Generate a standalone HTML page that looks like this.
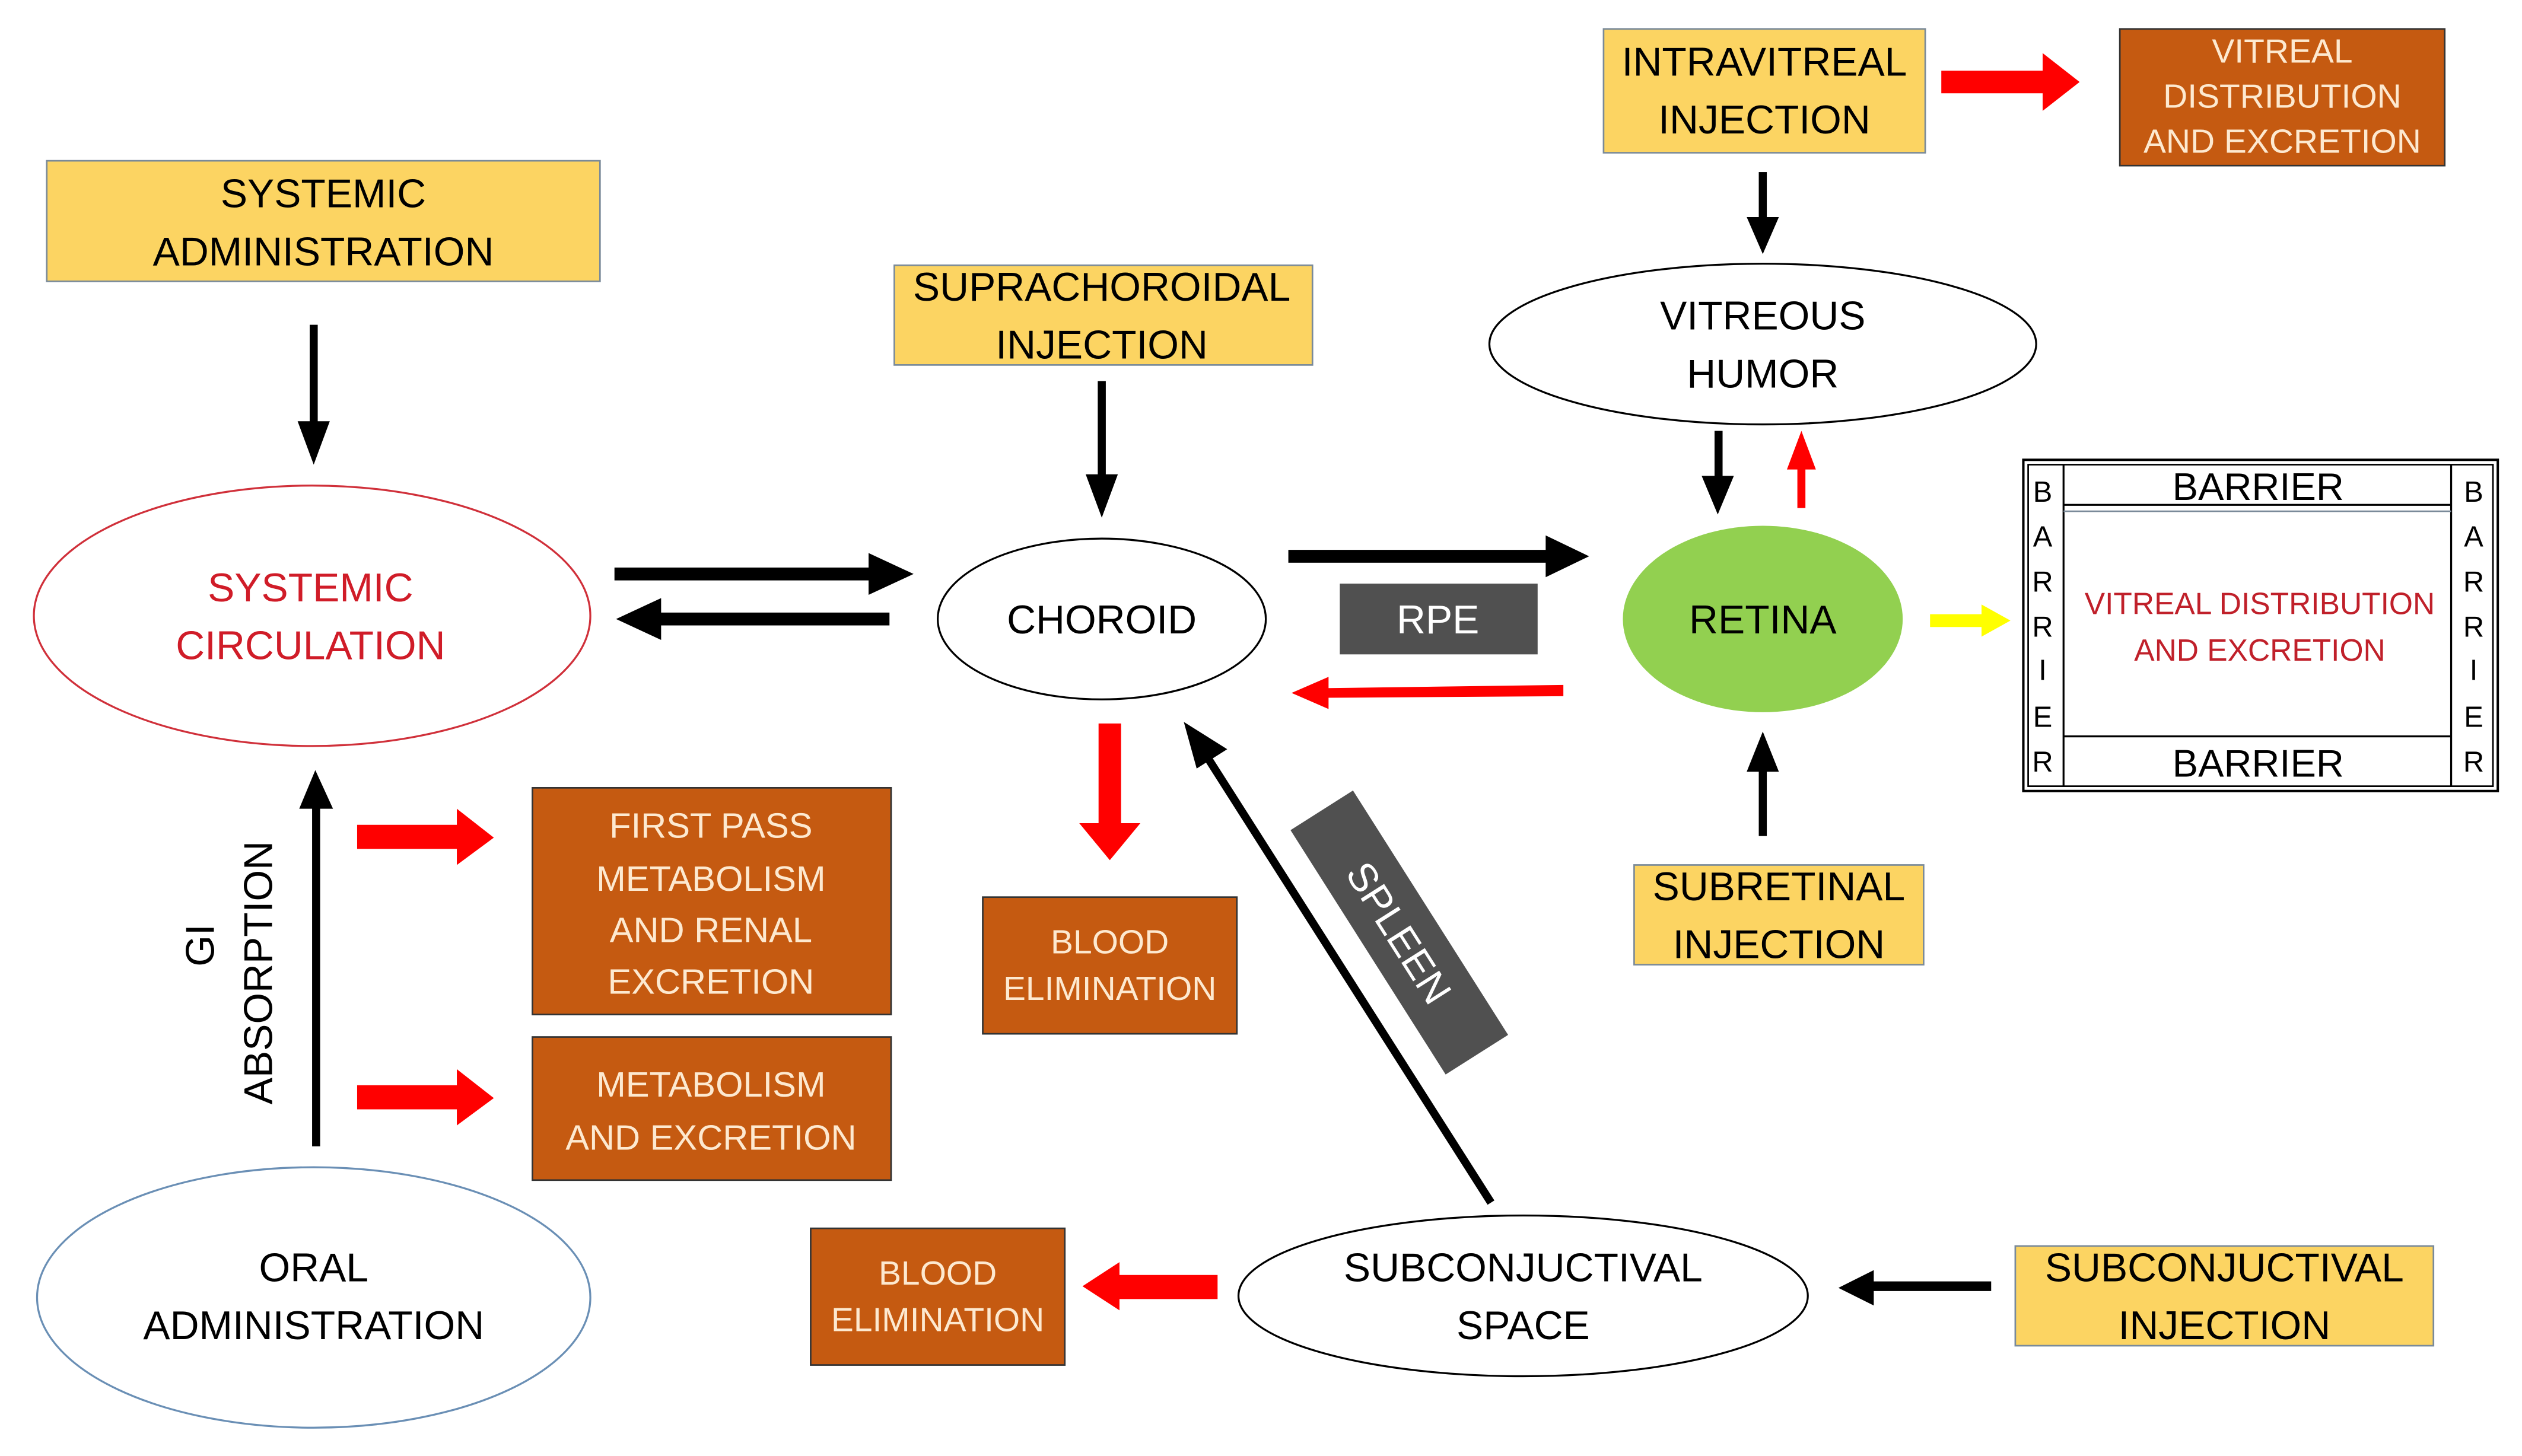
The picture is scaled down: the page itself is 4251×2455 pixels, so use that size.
<!DOCTYPE html>
<html><head><meta charset="utf-8"><style>
html,body{margin:0;padding:0;background:#fff}
svg{display:block}
text{font-family:"Liberation Sans",sans-serif;text-anchor:middle}
</style></head><body>
<svg width="4251" height="2455" viewBox="0 0 1568 905.6" xmlns="http://www.w3.org/2000/svg">
<rect width="1568" height="906" fill="#fff"/>
<g font-size="25">
<rect x="29" y="100" width="344" height="75" fill="#FCD462" stroke="#7a8a99" stroke-width="1"/>
<text x="201" y="129">SYSTEMIC</text><text x="201" y="165">ADMINISTRATION</text>
<rect x="192.5" y="202" width="5" height="62" fill="#000"/><path d="M185,262 L205,262 L195,289 Z" fill="#000"/>
<ellipse cx="194" cy="383" rx="173" ry="81" fill="#fff" stroke="#d0303a" stroke-width="1.2"/>
<text x="193" y="374" fill="#d01c28">SYSTEMIC</text><text x="193" y="410" fill="#d01c28">CIRCULATION</text>
<rect x="382" y="353" width="160" height="8" fill="#000"/><path d="M540,344 L568,357 L540,370 Z" fill="#000"/>
<rect x="410" y="381" width="143" height="8" fill="#000"/><path d="M411,372 L383,385 L411,398 Z" fill="#000"/>
<rect x="556" y="165" width="260" height="62" fill="#FCD462" stroke="#7a8a99" stroke-width="1"/>
<text x="685" y="187">SUPRACHOROIDAL</text><text x="685" y="223">INJECTION</text>
<rect x="682.5" y="237" width="5" height="60" fill="#000"/><path d="M675,295 L695,295 L685,322 Z" fill="#000"/>
<ellipse cx="685" cy="385" rx="102" ry="50" fill="#fff" stroke="#000" stroke-width="1.2"/>
<text x="685" y="394">CHOROID</text>
<rect x="801" y="342" width="162" height="8" fill="#000"/><path d="M961,333 L988,346 L961,359 Z" fill="#000"/>
<rect x="833" y="363" width="123" height="44" fill="#505050"/>
<text x="894" y="394" fill="#fff">RPE</text>
<path d="M972,426 L826,428 L826,421 L803,431 L826,441 L826,434 L972,433 Z" fill="#f00"/>
<ellipse cx="1096" cy="385" rx="87" ry="58" fill="#92D050"/>
<text x="1096" y="394">RETINA</text>
<ellipse cx="1096" cy="214" rx="170" ry="50" fill="#fff" stroke="#000" stroke-width="1.2"/>
<text x="1096" y="205">VITREOUS</text><text x="1096" y="241">HUMOR</text>
<rect x="997" y="18" width="200" height="77" fill="#FCD462" stroke="#7a8a99" stroke-width="1"/>
<text x="1097" y="47">INTRAVITREAL</text><text x="1097" y="83">INJECTION</text>
<path d="M1207,44 L1270,44 L1270,33 L1293,51 L1270,69 L1270,58 L1207,58 Z" fill="#f00"/>
<rect x="1318" y="18" width="202" height="85" fill="#C55A11" stroke="#333" stroke-width="1"/>
<g fill="#fde9d0" font-size="21"><text x="1419" y="39">VITREAL</text><text x="1419" y="67">DISTRIBUTION</text><text x="1419" y="95">AND EXCRETION</text></g>
<rect x="1093.5" y="107" width="5" height="30" fill="#000"/><path d="M1086,135 L1106,135 L1096,158 Z" fill="#000"/>
<rect x="1066" y="268" width="5" height="30" fill="#000"/><path d="M1058,296 L1078,296 L1068,320 Z" fill="#000"/>
<rect x="1117.5" y="290" width="5" height="26" fill="#f00"/><path d="M1111,292 L1129,292 L1120,268 Z" fill="#f00"/>
<path d="M1200,382 L1232,382 L1232,376 L1250,386 L1232,396 L1232,390 L1200,390 Z" fill="#ff0"/>
<rect x="1258" y="286" width="295" height="206" fill="#fff" stroke="#000" stroke-width="1.5"/>
<rect x="1261" y="289" width="289" height="200" fill="none" stroke="#000" stroke-width="1"/>
<line x1="1283" y1="289" x2="1283" y2="489" stroke="#000" stroke-width="1.2"/>
<line x1="1524" y1="289" x2="1524" y2="489" stroke="#000" stroke-width="1.2"/>
<line x1="1283" y1="314" x2="1524" y2="314" stroke="#000" stroke-width="1.2"/>
<line x1="1283" y1="318" x2="1524" y2="318" stroke="#7a8a99" stroke-width="1"/>
<line x1="1283" y1="458" x2="1524" y2="458" stroke="#000" stroke-width="1.2"/>
<g font-size="24"><text x="1404" y="311">BARRIER</text><text x="1404" y="483">BARRIER</text></g>
<g font-size="18"><text x="1270" y="312">B</text><text x="1270" y="340">A</text><text x="1270" y="368">R</text><text x="1270" y="396">R</text><text x="1270" y="423">I</text><text x="1270" y="452">E</text><text x="1270" y="480">R</text>
<text x="1538" y="312">B</text><text x="1538" y="340">A</text><text x="1538" y="368">R</text><text x="1538" y="396">R</text><text x="1538" y="423">I</text><text x="1538" y="452">E</text><text x="1538" y="480">R</text></g>
<g fill="#c0202a" font-size="19"><text x="1405" y="382">VITREAL DISTRIBUTION</text><text x="1405" y="411">AND EXCRETION</text></g>
<rect x="1016" y="538" width="180" height="62" fill="#FCD462" stroke="#7a8a99" stroke-width="1"/>
<text x="1106" y="560">SUBRETINAL</text><text x="1106" y="596">INJECTION</text>
<rect x="1093.5" y="478" width="5" height="42" fill="#000"/><path d="M1086,480 L1106,480 L1096,455 Z" fill="#000"/>
<path d="M683,450 L697,450 L697,512 L709,512 L690,535 L671,512 L683,512 Z" fill="#f00"/>
<rect x="611" y="558" width="158" height="85" fill="#C55A11" stroke="#333" stroke-width="1"/>
<g fill="#fde9d0" font-size="21"><text x="690" y="593">BLOOD</text><text x="690" y="622">ELIMINATION</text></g>
<g transform="translate(870,580) rotate(57.6)">
<rect x="-90" y="-23" width="180" height="46" fill="#505050"/>
<text x="0" y="9" fill="#fff">SPLEEN</text></g>
<line x1="927" y1="748" x2="750" y2="470" stroke="#000" stroke-width="5"/>
<path d="M736,449 L763,466 L744,478 Z" fill="#000"/>
<ellipse cx="947" cy="806" rx="177" ry="50" fill="#fff" stroke="#000" stroke-width="1.2"/>
<text x="947" y="797">SUBCONJUCTIVAL</text><text x="947" y="833">SPACE</text>
<rect x="1163" y="797" width="75" height="6" fill="#000"/><path d="M1165,790 L1143,801 L1165,812 Z" fill="#000"/>
<rect x="1253" y="775" width="260" height="62" fill="#FCD462" stroke="#7a8a99" stroke-width="1"/>
<text x="1383" y="797">SUBCONJUCTIVAL</text><text x="1383" y="833">INJECTION</text>
<path d="M757,793 L696,793 L696,785 L673,800 L696,815 L696,808 L757,808 Z" fill="#f00"/>
<rect x="504" y="764" width="158" height="85" fill="#C55A11" stroke="#333" stroke-width="1"/>
<g fill="#fde9d0" font-size="21"><text x="583" y="799">BLOOD</text><text x="583" y="828">ELIMINATION</text></g>
<ellipse cx="195" cy="807" rx="172" ry="81" fill="#fff" stroke="#6a8fb5" stroke-width="1.2"/>
<text x="195" y="797">ORAL</text><text x="195" y="833">ADMINISTRATION</text>
<rect x="194" y="502" width="5" height="211" fill="#000"/><path d="M186,503 L207,503 L196,479 Z" fill="#000"/>
<text transform="translate(133,588) rotate(-90)">GI</text>
<text transform="translate(169,605) rotate(-90)">ABSORPTION</text>
<path d="M222,513 L284,513 L284,503 L307,521 L284,538 L284,528 L222,528 Z" fill="#f00"/>
<path d="M222,675 L284,675 L284,665 L307,683 L284,700 L284,690 L222,690 Z" fill="#f00"/>
<rect x="331" y="490" width="223" height="141" fill="#C55A11" stroke="#333" stroke-width="1"/>
<g fill="#fde9d0" font-size="22"><text x="442" y="521">FIRST PASS</text><text x="442" y="554">METABOLISM</text><text x="442" y="586">AND RENAL</text><text x="442" y="618">EXCRETION</text></g>
<rect x="331" y="645" width="223" height="89" fill="#C55A11" stroke="#333" stroke-width="1"/>
<g fill="#fde9d0" font-size="22"><text x="442" y="682">METABOLISM</text><text x="442" y="715">AND EXCRETION</text></g>
</g>
</svg>
</body></html>
